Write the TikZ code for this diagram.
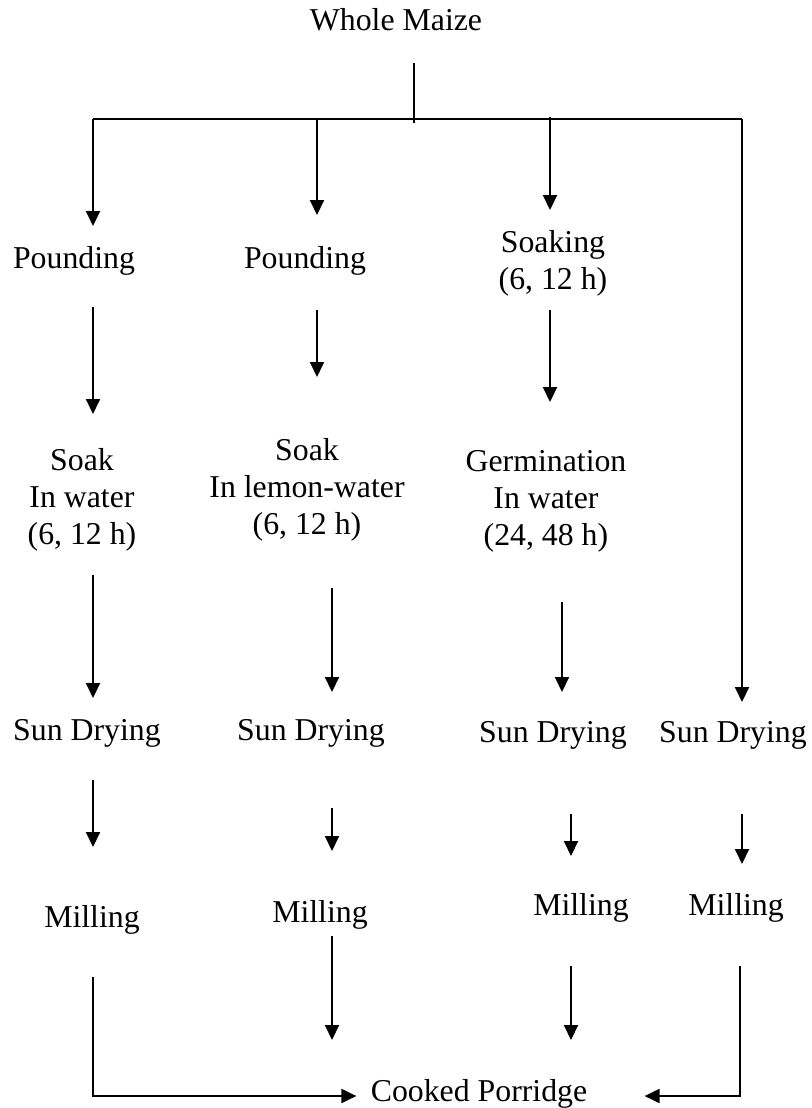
\documentclass[tikz,border=0pt]{standalone}
\usepackage{fontspec}
\setmainfont{Liberation Serif}
\usetikzlibrary{arrows.meta}

\begin{document}
\begin{tikzpicture}[
  x=0.5pt,y=-0.5pt,
  every node/.style={font=\fontsize{15.9}{18.5}\selectfont,inner sep=0pt},
  stage/.style={anchor=base,align=center},
  flow/.style={-{Triangle[length=7.5pt,width=7pt]},line width=1pt},
  rail/.style={line width=1pt}
]
  \useasboundingbox (0,0) rectangle (812,1108);

  \node[stage] (maize) at (396,31) {Whole Maize};

  \node[stage] (pound1) at (74,268) {Pounding};
  \node[stage] (pound2) at (305,268) {Pounding};
  \node[stage] (soaking) at (553,289) {Soaking\\(6, 12 h)};

  \node[stage] (soak1) at (82,544) {Soak\\In water\\(6, 12 h)};
  \node[stage] (soak2) at (307,534) {Soak\\In lemon-water\\(6, 12 h)};
  \node[stage] (germ) at (546,545) {Germination\\In water\\(24, 48 h)};

  \node[stage] (sun1) at (87,740) {Sun Drying};
  \node[stage] (sun2) at (311,740) {Sun Drying};
  \node[stage] (sun3) at (553,742) {Sun Drying};
  \node[stage] (sun4) at (733,742) {Sun Drying};

  \node[stage] (mill1) at (92,927) {Milling};
  \node[stage] (mill2) at (320,922) {Milling};
  \node[stage] (mill3) at (581,915) {Milling};
  \node[stage] (mill4) at (736,915) {Milling};

  \node[stage] (porridge) at (479,1101) {Cooked Porridge};

  % branching from the whole grain
  \coordinate (stemtop) at (414,63);
  \coordinate (stembot) at (414,123);
  \coordinate (brleft) at (93,119);
  \coordinate (brright) at (742,119);
  \draw[rail] (stemtop) -- (stembot);
  \draw[rail] (brleft) -- (brright);

  \foreach \n/\x/\ya/\yb in {b1/93/119/226,b2/317/119/215,b3/550/117/210,b4/742/119/702,
      c1/93/307/414,c2/317/310/377,c3/550/310/402,
      d1/93/575/698,d2/332/588/692,d3/562/602/692,
      e1/93/780/847,e2/332/808/851,e3/571/814/856,e4/742/814/864,
      f2/332/936/1040,f3/571/966/1040}
    {\coordinate (\n t) at (\x,\ya);
     \coordinate (\n h) at (\x,\yb);
     \draw[flow] (\n t) -- (\n h);}

  % side feeds into the porridge
  \coordinate (f1t) at (93,977);
  \coordinate (f4t) at (740,966);
  \draw[flow] (f1t) |- ([xshift=-7pt]porridge.west |- 0,1096);
  \draw[flow] (f4t) |- ([xshift=28.5pt]porridge.east |- 0,1096);
\end{tikzpicture}
\end{document}
